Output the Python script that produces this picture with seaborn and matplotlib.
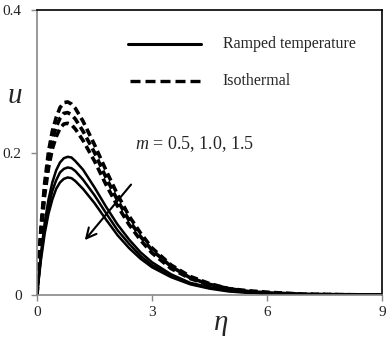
import numpy as np
import pandas as pd
import seaborn as sns
import matplotlib.pyplot as plt

# eta grid
eta = [0, 0.1, 0.2, 0.3, 0.4, 0.5, 0.6, 0.7, 0.8, 0.9, 1.0, 1.2, 1.5, 1.8,
       2.1, 2.4, 2.7, 3.0, 3.5, 4.0, 4.5, 5.0, 5.5, 6.0, 7.0, 8.0, 9.0]

# ramped temperature, m = 0.5, 1.0, 1.5
ramp_05 = [0, .056, .101, .134, .158, .175, .186, .192, .194, .193, .188, .176, .151, .124,
           .099, .078, .060, .046, .029, .017, .011, .006, .004, .002, .001, .0003, .0001]
ramp_10 = [0, .052, .093, .124, .146, .161, .172, .177, .179, .178, .174, .162, .140, .115,
           .091, .072, .055, .042, .027, .016, .010, .006, .004, .002, .001, .0003, .0001]
ramp_15 = [0, .048, .086, .114, .134, .149, .158, .163, .165, .164, .160, .149, .129, .106,
           .084, .066, .051, .039, .025, .015, .009, .005, .003, .002, .001, .0002, .0001]

# isothermal, m = 0.5, 1.0, 1.5
iso_05 = [0, .092, .157, .201, .230, .249, .263, .270, .271, .268, .262, .244, .211, .175,
          .141, .111, .087, .066, .042, .026, .016, .009, .006, .004, .001, .0004, .0001]
iso_10 = [0, .087, .148, .189, .218, .236, .248, .255, .256, .253, .247, .230, .200, .165,
          .133, .105, .082, .063, .040, .024, .015, .009, .005, .003, .001, .0004, .0001]
iso_15 = [0, .082, .140, .178, .205, .222, .234, .240, .241, .239, .233, .217, .188, .155,
          .125, .099, .077, .059, .037, .023, .014, .008, .005, .003, .001, .0004, .0001]

xticks = [0, 3, 6, 9]
yticks = [0, 0.2, 0.4]
ytick_labels = ['0', '0.2', '0.4']

sns.set_style('white')
plt.rcParams['font.family'] = ['Liberation Serif', 'DejaVu Serif']
plt.rcParams['mathtext.fontset'] = 'custom'
plt.rcParams['mathtext.it'] = 'Liberation Serif:italic'
plt.rcParams['mathtext.rm'] = 'Liberation Serif'

fig = plt.figure(figsize=(3.91, 3.37), dpi=100)
ax = fig.add_axes([0.0946, 0.1246, 0.8824, 0.8457])

for u in [ramp_05, ramp_10, ramp_15]:
    sns.lineplot(x=eta, y=u, ax=ax, color='black', linewidth=1.8)
for u in [iso_05, iso_10, iso_15]:
    sns.lineplot(x=eta, y=u, ax=ax, color='black', linewidth=2.6, dashes=False,
                 linestyle=(0, (2.2, 1.2)))

ax.set_xlim(0, 9)
ax.set_ylim(0, 0.4)
ax.set_xticks(xticks)
ax.set_yticks(yticks)
ax.set_yticklabels(ytick_labels)
ax.tick_params(direction='out', length=4, width=1, color='#888888',
               labelsize=11, labelcolor='#222222', bottom=True, left=True)
ax.tick_params(axis='y', pad=7)
ax.tick_params(axis='x', pad=4)

for s in ['left', 'bottom']:
    ax.spines[s].set_color('#888888')
    ax.spines[s].set_linewidth(1.2)
for s in ['top', 'right']:
    ax.spines[s].set_color('black')
    ax.spines[s].set_linewidth(1.2)

ax.set_xlabel('')
ax.set_ylabel('')

# legend drawn by hand
ax.plot([2.38, 4.28], [0.352, 0.352], color='black', linewidth=2.2)
ax.plot([2.42, 4.32], [0.301, 0.301], color='black', linewidth=2.4, linestyle=(0, (3, 1.5)))
ax.text(4.84, 0.352, 'Ramped temperature', fontsize=11.5, va='center', ha='left')
ax.text(4.84, 0.301, 'Isothermal', fontsize=11.5, va='center', ha='left')

ax.text(2.55, 0.212, '$m$ = 0.5, 1.0, 1.5', fontsize=13, va='center', ha='left')

ax.annotate('', xy=(1.2, 0.074), xytext=(2.5, 0.158),
            arrowprops=dict(arrowstyle='->', color='black', lw=1.5, mutation_scale=18))

fig.text(15 / 391, 1 - 96 / 337, '$u$', fontsize=21, ha='center', va='center')
fig.text(221 / 391, 1 - 325 / 337, r'$\eta$', fontsize=21, ha='center', va='center')

fig.savefig('out.png', dpi=100)
